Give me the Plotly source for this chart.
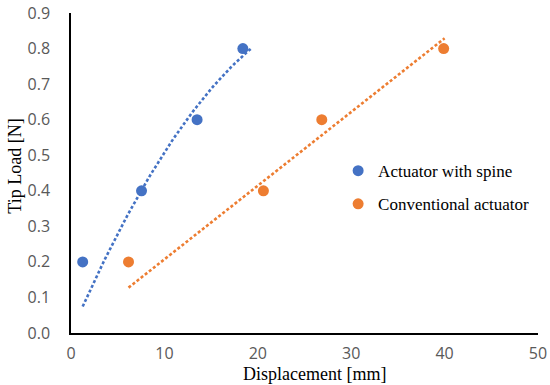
import numpy as np
import plotly.graph_objects as go

# ---- data ----
spine_disp = [1.25, 7.55, 13.5, 18.4]          # Displacement [mm]
spine_load = [0.2, 0.4, 0.6, 0.8]              # Tip Load [N]
conv_disp = [6.16, 20.6, 26.85, 39.9]
conv_load = [0.2, 0.4, 0.6, 0.8]

spine_name = "Actuator with spine"
conv_name = "Conventional actuator"
x_title = "Displacement [mm]"
y_title = "Tip Load [N]"
x_ticks = [0, 10, 20, 30, 40, 50]
y_ticks = [0.0, 0.1, 0.2, 0.3, 0.4, 0.5, 0.6, 0.7, 0.8, 0.9]

BLUE = "#4472C4"
ORANGE = "#ED7D31"


def fit_through_origin(x, y, order, forward=0.0, n=60):
    """Least-squares polynomial trendline with intercept fixed at 0 (as Excel)."""
    x = np.asarray(x, float)
    y = np.asarray(y, float)
    A = np.column_stack([x ** k for k in range(1, order + 1)])
    coef, *_ = np.linalg.lstsq(A, y, rcond=None)
    xs = np.linspace(x.min(), x.max() + forward, n)
    ys = sum(c * xs ** (k + 1) for k, c in enumerate(coef))
    return xs, ys


sx, sy = fit_through_origin(spine_disp, spine_load, 2, forward=0.9)
cx, cy = fit_through_origin(conv_disp, conv_load, 1, forward=0.1)

fig = go.Figure()
dash = "3px,2.2px"
fig.add_trace(go.Scatter(x=sx, y=sy, mode="lines", showlegend=False, hoverinfo="skip",
                         line=dict(color=BLUE, width=2.6, dash=dash)))
fig.add_trace(go.Scatter(x=cx, y=cy, mode="lines", showlegend=False, hoverinfo="skip",
                         line=dict(color=ORANGE, width=2.6, dash=dash)))
fig.add_trace(go.Scatter(x=spine_disp, y=spine_load, mode="markers", name=spine_name,
                         legendgroup="a", marker=dict(color=BLUE, size=11)))
fig.add_trace(go.Scatter(x=conv_disp, y=conv_load, mode="markers", name=conv_name,
                         legendgroup="b", marker=dict(color=ORANGE, size=11)))

tick_font = dict(family="Open Sans, DejaVu Sans, sans-serif", size=16, color="#595959")
serif = "Liberation Serif, Times New Roman, serif"

fig.update_layout(
    width=550, height=385,
    margin=dict(l=71, r=12, t=13, b=52),
    paper_bgcolor="white", plot_bgcolor="white",
    showlegend=True,
    legend=dict(x=0.572, y=0.562, xanchor="left", yanchor="top",
                font=dict(family=serif, size=17, color="black"),
                traceorder="grouped", tracegroupgap=8,
                bgcolor="rgba(0,0,0,0)", itemwidth=30),
    xaxis=dict(range=[0, 50], tickvals=x_ticks, ticktext=[str(v) for v in x_ticks],
               showgrid=False, zeroline=False, showline=True, linecolor="black", linewidth=1.5,
               ticks="", tickfont=tick_font, ticklabelstandoff=5, automargin=False),
    yaxis=dict(range=[0, 0.9], tickvals=y_ticks, ticktext=[f"{v:.1f}" for v in y_ticks],
               showgrid=False, zeroline=False, showline=True, linecolor="black", linewidth=1.5,
               ticks="", tickfont=tick_font, ticklabelstandoff=16, automargin=False),
    annotations=[
        dict(text=x_title, xref="paper", yref="paper", x=0.521, y=-0.1276,
             xanchor="center", yanchor="middle", showarrow=False,
             font=dict(family=serif, size=18, color="black")),
        dict(text=y_title, xref="paper", yref="paper", x=-0.119, y=0.521,
             xanchor="center", yanchor="middle", showarrow=False, textangle=-90,
             font=dict(family=serif, size=18, color="black")),
    ],
)

fig.write_html("out.html", config={"displayModeBar": False},
               post_script="document.body.style.margin='0';document.body.style.overflow='hidden';")
